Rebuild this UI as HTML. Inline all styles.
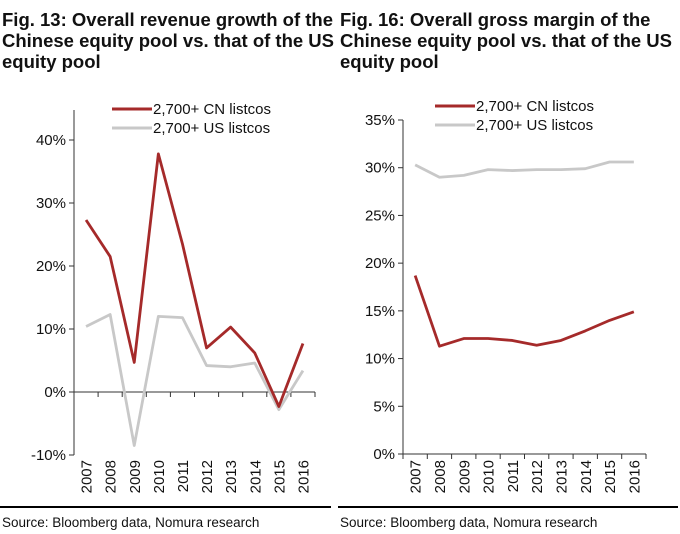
<!DOCTYPE html>
<html><head><meta charset="utf-8"><style>
body{margin:0;background:#fff;width:680px;height:534px;overflow:hidden;font-family:"Liberation Sans",Arial,sans-serif}
.t{position:absolute;font-weight:bold;font-size:18.5px;line-height:21px;color:#111;white-space:nowrap}
svg{position:absolute;left:0;top:0}
</style></head><body>
<div class="t" style="left:2px;top:9px">Fig. 13: Overall revenue growth of the<br>Chinese equity pool vs. that of the US<br>equity pool</div>
<div class="t" style="left:340px;top:9px">Fig. 16: Overall gross margin of the<br>Chinese equity pool vs. that of the US<br>equity pool</div>
<svg id="s" width="680" height="534"></svg>
<script>
const years=["2007","2008","2009","2010","2011","2012","2013","2014","2015","2016"];
const cnGrowth=[27.3,21.5,4.7,37.8,23.5,7.0,10.3,6.2,-2.3,7.7];
const usGrowth=[10.4,12.3,-8.5,12.0,11.8,4.2,4.0,4.6,-2.8,3.4];
const cnMargin=[18.7,11.3,12.1,12.1,11.9,11.4,11.9,12.9,14.0,14.9];
const usMargin=[30.3,29.0,29.2,29.8,29.7,29.8,29.8,29.9,30.6,30.6];
const leftTicks=[-10,0,10,20,30,40];
const rightTicks=[0,5,10,15,20,25,30,35];
const S=document.getElementById('s');const NS="http://www.w3.org/2000/svg";
function mk(t,a,p){const e=document.createElementNS(NS,t);for(const k in a)e.setAttribute(k,a[k]);(p||S).appendChild(e);return e;}
function chart(o){
 const y=v=>o.y0+(v-o.v0)*(o.y1-o.y0)/(o.v1-o.v0);
 const step=(o.xr-o.xl)/years.length;const x=i=>o.xl+step*(i+0.5);
 const g=mk('g',{});
 
 
 mk('line',{x1:o.xl,y1:o.yTop,x2:o.xl,y2:y(o.v0),stroke:'#333','stroke-width':1},g);
 o.ticks.forEach(v=>{mk('line',{x1:o.xl-5,y1:y(v),x2:o.xl,y2:y(v),stroke:'#333'},g);
  const t=mk('text',{x:o.xl-8,y:y(v)+5,'text-anchor':'end','font-size':15,fill:'#111'},g);t.textContent=v+'%';
  
  });
 const ay=y(o.axisV);
 mk('line',{x1:o.xl,y1:ay,x2:o.xr,y2:ay,stroke:'#333'},g);
 for(let i=0;i<=years.length;i++)mk('line',{x1:o.xl+step*i,y1:ay,x2:o.xl+step*i,y2:ay+5,stroke:'#333'},g);
 years.forEach((yr,i)=>{const t=mk('text',{transform:`translate(${x(i)+5.5},${o.labY}) rotate(-90)`,'text-anchor':'end','font-size':15,fill:'#111'},g);t.textContent=yr;
  
  });
 [[o.us,'#c8c8c8','us-line'],[o.cn,'#a52a2a','cn-line']].forEach(([d,c,n])=>{
  const p=mk('polyline',{points:d.map((v,i)=>x(i)+','+y(v)).join(' '),fill:'none',stroke:c,'stroke-width':2.8,'stroke-linejoin':'round'},g);
  
  });
 [['#a52a2a','2,700+ CN listcos',o.lgY],['#c8c8c8','2,700+ US listcos',o.lgY+19]].forEach(([c,tx,yy])=>{
  mk('line',{x1:o.lgX,y1:yy,x2:o.lgX+40,y2:yy,stroke:c,'stroke-width':3},g);
  const t=mk('text',{x:o.lgX+41,y:yy+5,'font-size':15,fill:'#111'},g);t.textContent=tx;
  
  });
}
chart({name:'revenue-growth-chart',xl:74,xr:315,y0:455,v0:-10,y1:140,v1:40,yTop:110,axisV:0,labY:460,ticks:leftTicks,cn:cnGrowth,us:usGrowth,lgX:112,lgY:109});
chart({name:'gross-margin-chart',xl:403,xr:646,y0:454,v0:0,y1:120,v1:35,yTop:120,axisV:0,labY:460,ticks:rightTicks,cn:cnMargin,us:usMargin,lgX:435,lgY:106});
mk('line',{x1:0,y1:507,x2:331,y2:507,stroke:'#000','stroke-width':2});
mk('line',{x1:338,y1:507,x2:678,y2:507,stroke:'#000','stroke-width':2});
[[2,'left-source'],[340,'right-source']].forEach(([xx,n])=>{const t=mk('text',{x:xx,y:527,'font-size':13.5,fill:'#111'});t.textContent='Source: Bloomberg data, Nomura research';
 
 });
</script>
</body></html>
